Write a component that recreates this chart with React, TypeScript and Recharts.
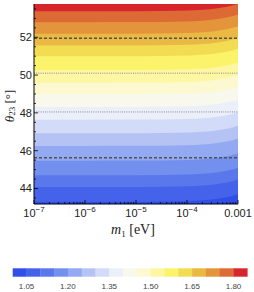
import React from 'react';
import { ComposedChart, Area, XAxis, YAxis, ReferenceLine } from 'recharts';

// m1 sample positions (eV) and upward shift of contours
const M1 = [1e-7, 1e-6, 1e-5, 1e-4, 2e-4, 4e-4, 6e-4, 8e-4, 1e-3];
const SHIFT = [0, 0, 0.005, 0.04, 0.08, 0.16, 0.24, 0.32, 0.4];

// contour levels and their theta23 position at the left edge (m1 = 1e-7)
const LEVELS = [1.05, 1.1, 1.15, 1.2, 1.25, 1.3, 1.35, 1.4, 1.45, 1.5, 1.55, 1.6, 1.65, 1.7, 1.75, 1.8];
const THETA_LEFT = [43.3, 44.08, 44.7, 45.47, 46.25, 46.92, 47.64, 48.31, 48.98, 49.6, 50.27, 50.99, 51.56, 52.18, 52.8, 53.37];

const COLORS = [
  '#2f4fe8', '#4563ea', '#5a78ec', '#7490ee', '#93a9f1', '#b4c3f4', '#d2dbf7', '#ebeffa',
  '#f8f8ec', '#fcf8cf', '#fdf6a2', '#fbf36a', '#f2dc52', '#eab944', '#e4953c', '#dd6a34', '#d6262c',
];

const CBAR_LABELS = ['1.05', '1.20', '1.35', '1.50', '1.65', '1.80'];

const DASHED_LINES = [51.95, 45.63];
const DOTTED_LINES = [50.1, 48.05];

const X_MAJOR = [1e-7, 1e-6, 1e-5, 1e-4, 1e-3];
const X_MINOR_MULT = [2, 3, 4, 5, 6, 7, 8, 9];
const Y_TICKS = [43.5, 44, 44.5, 45, 45.5, 46, 46.5, 47, 47.5, 48, 48.5, 49, 49.5, 50, 50.5, 51, 51.5, 52, 52.5, 53, 53.5];
const Y_LABELS = [44, 46, 48, 50, 52];

const Y_MIN = 43.18;
const Y_MAX = 53.76;
const TOP = 56;

const xTicks: number[] = [];
X_MAJOR.forEach((d, i) => {
  xTicks.push(d);
  if (i < X_MAJOR.length - 1) X_MINOR_MULT.forEach((m) => xTicks.push(d * m));
});

const rows = M1.map((m, j) => {
  const r: Record<string, number> = { m1: m };
  THETA_LEFT.forEach((t, k) => {
    r['b' + k] = t + SHIFT[j];
  });
  return r;
});

const isMajorX = (v: number) => X_MAJOR.some((d) => Math.abs(v / d - 1) < 1e-6);
const FONT = '"Liberation Sans", Arial, sans-serif';
const SERIF = '"Liberation Serif", "Times New Roman", serif';

const BottomTick = (props: any) => {
  const { x, y, payload } = props;
  const v = payload.value;
  const major = isMajorX(v);
  const exp = Math.round(Math.log10(v));
  return (
    <g>
      <line x1={x} x2={x} y1={y} y2={y - (major ? 4 : 2)} stroke="#000" strokeWidth={0.8} />
      {major && (
        v === 1e-3 ? (
          <text x={x} y={y + 13} textAnchor="middle" fontFamily={FONT} fontSize={11} fill="#222">0.001</text>
        ) : (
          <text x={x} y={y + 13} textAnchor="middle" fontFamily={FONT} fontSize={11} fill="#222">
            10<tspan dy={-5} fontSize={8}>{'\u2212' + Math.abs(exp)}</tspan>
          </text>
        )
      )}
    </g>
  );
};

const TopTick = (props: any) => {
  const { x, y, payload } = props;
  const major = isMajorX(payload.value);
  return <line x1={x} x2={x} y1={y} y2={y + (major ? 4 : 2)} stroke="#000" strokeWidth={0.8} />;
};

const LeftTick = (props: any) => {
  const { x, y, payload } = props;
  const v = payload.value;
  const major = Y_LABELS.includes(v);
  return (
    <g>
      <line x1={x} x2={x + (major ? 4 : 2)} y1={y} y2={y} stroke="#000" strokeWidth={0.8} />
      {major && (
        <text x={x - 2} y={y + 4} textAnchor="end" fontFamily={FONT} fontSize={11} fill="#222">{v}</text>
      )}
    </g>
  );
};

const RightTick = (props: any) => {
  const { x, y, payload } = props;
  const major = Y_LABELS.includes(payload.value);
  return <line x1={x} x2={x - (major ? 4 : 2)} y1={y} y2={y} stroke="#000" strokeWidth={0.8} />;
};

const XLabel = (props: any) => {
  const vb = props.viewBox || {};
  const cx = vb.x + vb.width / 2 - 3;
  const y = vb.y + 30;
  return (
    <text x={cx} y={y} textAnchor="middle" fontFamily={SERIF} fontSize={14} fill="#222">
      <tspan fontStyle="italic">m</tspan>
      <tspan fontSize={9} dy={3}>1</tspan>
      <tspan dy={-3}> [eV]</tspan>
    </text>
  );
};

export default function App() {
  const cellW = 13.8;
  const cbX = 12.7;
  const cbY = 268.3;
  return (
    <div style={{ position: 'absolute', left: 0, top: 0, width: 254, height: 292, background: '#fff' }}>
      <ComposedChart width={254} height={242} data={rows} margin={{ top: 4, right: 16, left: 0, bottom: 0 }}>
        <XAxis
          dataKey="m1"
          type="number"
          scale="log"
          domain={[1e-7, 1e-3]}
          allowDataOverflow
          ticks={xTicks}
          interval={0}
          tick={<BottomTick />}
          tickSize={0}
          tickMargin={0}
          tickLine={false}
          axisLine={{ stroke: '#000', strokeWidth: 1 }}
          height={38}
          label={<XLabel />}
        />
        <XAxis
          xAxisId="top"
          orientation="top"
          dataKey="m1"
          type="number"
          scale="log"
          domain={[1e-7, 1e-3]}
          allowDataOverflow
          ticks={xTicks}
          interval={0}
          tick={<TopTick />}
          tickSize={0}
          tickMargin={0}
          tickLine={false}
          axisLine={{ stroke: '#000', strokeWidth: 1 }}
          height={0}
        />
        <YAxis
          type="number"
          domain={[Y_MIN, Y_MAX]}
          allowDataOverflow
          ticks={Y_TICKS}
          interval={0}
          tick={<LeftTick />}
          tickSize={0}
          tickMargin={0}
          tickLine={false}
          axisLine={{ stroke: '#000', strokeWidth: 1 }}
          width={34}
        />
        <YAxis
          yAxisId="right"
          orientation="right"
          type="number"
          domain={[Y_MIN, Y_MAX]}
          allowDataOverflow
          ticks={Y_TICKS}
          interval={0}
          tick={<RightTick />}
          tickSize={0}
          tickMargin={0}
          tickLine={false}
          axisLine={{ stroke: '#000', strokeWidth: 1 }}
          width={0}
        />
        <Area
          dataKey={() => [Y_MIN - 2, TOP]}
          type="monotone"
          fill={COLORS[0]}
          fillOpacity={1}
          stroke="none"
          isAnimationActive={false}
          activeDot={false}
        />
        {LEVELS.map((lv, k) => (
          <Area
            key={lv}
            dataKey={(d: any) => [d['b' + k], TOP]}
            type="monotone"
            fill={COLORS[k + 1]}
            fillOpacity={1}
            stroke="none"
            isAnimationActive={false}
            activeDot={false}
          />
        ))}
        {DASHED_LINES.map((v) => (
          <ReferenceLine key={'d' + v} y={v} stroke="#505050" strokeWidth={1.4} strokeDasharray="3 2" />
        ))}
        {DOTTED_LINES.map((v) => (
          <ReferenceLine key={'o' + v} y={v} stroke="#8a8a8a" strokeWidth={1} strokeDasharray="1 1.2" />
        ))}
      </ComposedChart>
      <svg width={254} height={292} style={{ position: 'absolute', left: 0, top: 0, pointerEvents: 'none' }}>
        <text
          x={9}
          y={106}
          transform="rotate(-90 9 106)"
          textAnchor="middle"
          dominantBaseline="central"
          fontFamily={SERIF}
          fontSize={13}
          fill="#222"
        >
          <tspan fontStyle="italic">θ</tspan>
          <tspan fontSize={9} dy={3}>23</tspan>
          <tspan dy={-3}> [°]</tspan>
        </text>
        {COLORS.map((c, i) => (
          <rect key={c} x={cbX + i * cellW} y={cbY} width={cellW + 0.3} height={8.4} fill={c} />
        ))}
        {CBAR_LABELS.map((l) => {
          const idx = LEVELS.findIndex((v) => Math.abs(v - parseFloat(l)) < 1e-6) + 1;
          return (
            <text key={l} x={cbX + idx * cellW} y={288.5} textAnchor="middle" fontFamily={FONT} fontSize={8} fill="#444">
              {l}
            </text>
          );
        })}
      </svg>
    </div>
  );
}
